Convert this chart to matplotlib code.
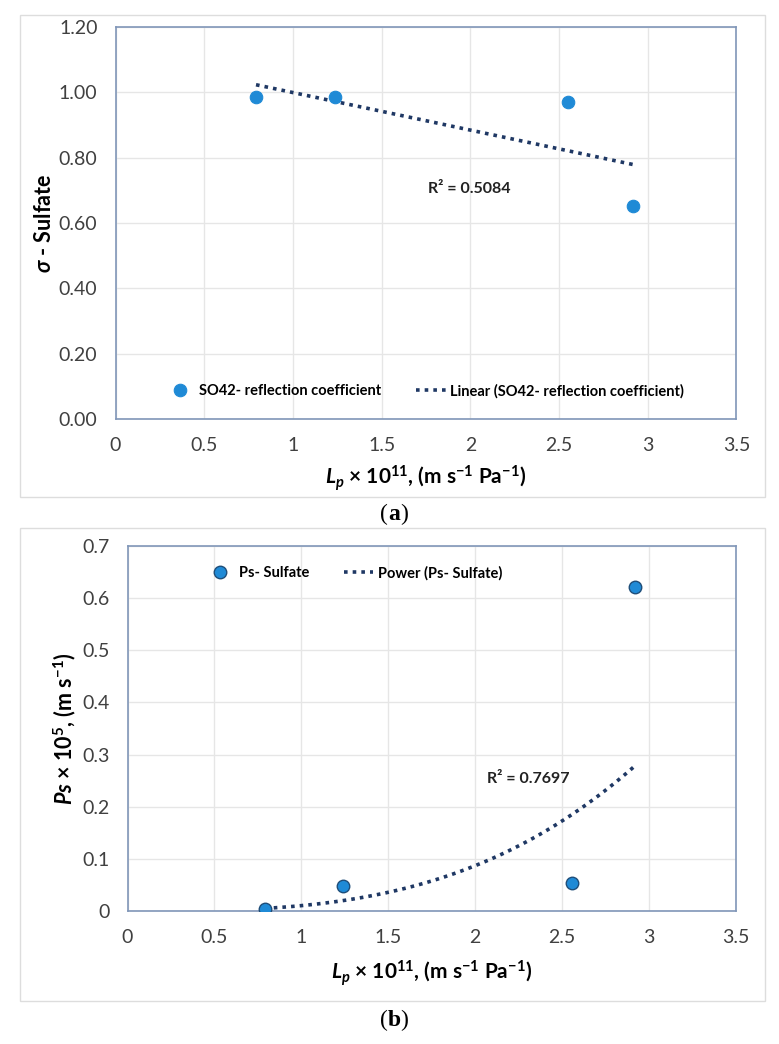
import numpy as np
import matplotlib
matplotlib.use("Agg")
import matplotlib.pyplot as plt
from matplotlib.patches import Rectangle

plt.rcParams["font.family"] = ["Lato", "DejaVu Sans"]
plt.rcParams["mathtext.fontset"] = "custom"
plt.rcParams["mathtext.rm"] = "Lato"
plt.rcParams["mathtext.it"] = "Lato:italic"
plt.rcParams["mathtext.bf"] = "Lato:bold"
plt.rcParams["mathtext.bfit"] = "Lato:bold:italic"

# ---------------- data ----------------
lp = [0.792, 1.240, 2.553, 2.919]
sigma_sulfate = [0.986, 0.986, 0.970, 0.652]

lp_b = [0.792, 1.241, 2.556, 2.922]
ps_sulfate = [0.0032, 0.048, 0.054, 0.621]

r2_a = "R² = 0.5084"
r2_b = "R² = 0.7697"

xticks = [0, 0.5, 1, 1.5, 2, 2.5, 3, 3.5]
yticks_a = [0.0, 0.2, 0.4, 0.6, 0.8, 1.0, 1.2]
yticks_b = [0, 0.1, 0.2, 0.3, 0.4, 0.5, 0.6, 0.7]

MARK_FC = "#1f8ad6"
MARK_EC = "#1f4e79"
TREND = "#1f3864"
SPINE = "#8096b8"
GRID = "#e6e6e6"
TICK = "#404040"

xlabel = r"$\mathbfit{L}_{\mathbfit{p}}$ × 10$^{\mathbf{11}}$, (m s$^{\mathbf{-1}}$ Pa$^{\mathbf{-1}}$)"


def style_axes(ax, yticks, yfmt):
    ax.set_xlim(0, 3.5)
    ax.set_ylim(yticks[0], yticks[-1])
    ax.set_xticks(xticks)
    ax.set_xticklabels([f"{t:g}" for t in xticks])
    ax.set_yticks(yticks)
    ax.set_yticklabels([yfmt.format(t) for t in yticks])
    ax.tick_params(length=0, labelsize=14, colors=TICK, pad=13)
    ax.grid(True, color=GRID, linewidth=1)
    ax.set_axisbelow(True)
    for s in ax.spines.values():
        s.set_color(SPINE)
        s.set_linewidth(1.2)


fig = plt.figure(figsize=(7.79, 10.44), dpi=100)

# outer frames
for y0, h in [(0.524, 0.4616), (0.0412, 0.4531)]:
    fig.patches.append(Rectangle((0.0257, y0), 0.9563, h, transform=fig.transFigure,
                                 fill=False, edgecolor="#dddddd", linewidth=1))

# ---------------- panel (a) ----------------
ax1 = fig.add_axes([0.1483, 0.5987, 0.797, 0.3755])
style_axes(ax1, yticks_a, "{:.2f}")

x = np.array(lp)
y = np.array(sigma_sulfate)
k, b = np.polyfit(x, y, 1)
xx = np.linspace(x.min(), x.max(), 50)
ax1.plot(xx, k * xx + b, linestyle=(0, (1, 1.4)), color=TREND, linewidth=2.6,
         label="Linear (SO42- reflection coefficient)", zorder=2)
ax1.plot(x, y, "o", markersize=9, markerfacecolor=MARK_FC, markeredgecolor=MARK_FC,
         markeredgewidth=0.8, label="SO42- reflection coefficient", zorder=3)

h, l = ax1.get_legend_handles_labels()
ax1.legend([h[1], h[0]], [l[1], l[0]], loc="center", bbox_to_anchor=(0.498, 0.071), ncol=2,
           frameon=False, prop={"weight": "bold", "size": 10.5}, handlelength=2.0,
           handletextpad=0.3, columnspacing=2.4)
ax1.text(1.76, 0.703, r2_a, fontsize=11.5, fontweight="bold", color="#222222",
         ha="left", va="center")
ax1.set_xlabel(xlabel, fontsize=15, fontweight="bold", labelpad=7)
ax1.set_ylabel(r"$\mathbfit{\sigma}$ - Sulfate", fontsize=15.5, fontweight="bold", labelpad=3)

# ---------------- panel (b) ----------------
ax2 = fig.add_axes([0.1637, 0.1274, 0.7805, 0.3496])
style_axes(ax2, yticks_b, "{:g}")

xb = np.array(lp_b)
yb = np.array(ps_sulfate)
pb, pa = np.polyfit(np.log(xb), np.log(yb), 1)
xx = np.linspace(xb.min(), xb.max(), 80)
ax2.plot(xx, np.exp(pa) * xx ** pb, linestyle=(0, (1, 1.4)), color=TREND, linewidth=2.6,
         label="Power (Ps- Sulfate)", zorder=2)
ax2.plot(xb, yb, "o", markersize=9, markerfacecolor=MARK_FC, markeredgecolor=MARK_EC,
         markeredgewidth=1.0, label="Ps- Sulfate", zorder=3)

h, l = ax2.get_legend_handles_labels()
ax2.legend([h[1], h[0]], [l[1], l[0]], loc="center", bbox_to_anchor=(0.372, 0.926), ncol=2,
           frameon=False, prop={"weight": "bold", "size": 10.5}, handlelength=2.0,
           handletextpad=0.3, columnspacing=2.4)
ax2.text(2.07, 0.2526, r2_b, fontsize=11.5, fontweight="bold", color="#222222",
         ha="left", va="center")
ax2.set_xlabel(xlabel, fontsize=15, fontweight="bold", labelpad=9)
ax2.set_ylabel(r"$\mathbfit{Ps}$ × 10$^{\mathbf{5}}$, (m s$^{\mathbf{-1}}$)", fontsize=15.5,
               fontweight="bold", labelpad=3)

# panel letters
for yl, letter in [(0.5075, "a"), (0.0225, "b")]:
    fig.text(0.4985, yl, "(", fontsize=17, family="Liberation Serif", ha="right", va="center")
    fig.text(0.506, yl, letter, fontsize=17, family="Liberation Serif", fontweight="bold",
             ha="center", va="center")
    fig.text(0.5135, yl, ")", fontsize=17, family="Liberation Serif", ha="left", va="center")

fig.savefig("out.png", dpi=100)
